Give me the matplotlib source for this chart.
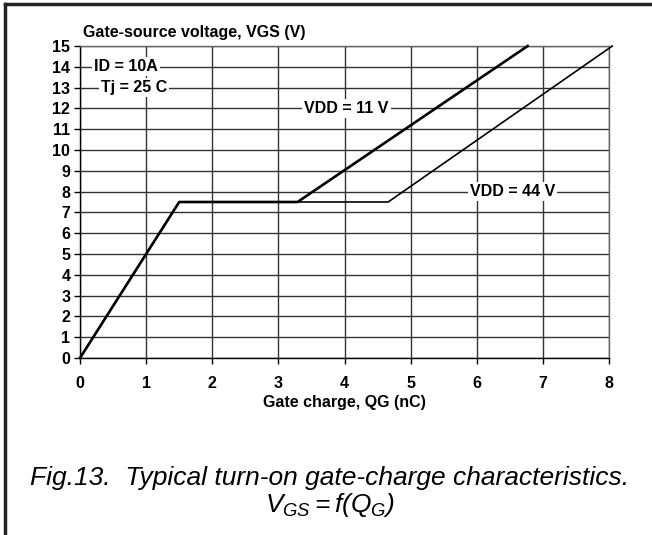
import matplotlib
matplotlib.use('Agg')
import matplotlib.pyplot as plt
from matplotlib.lines import Line2D

plt.rcParams['font.family'] = ['Liberation Sans', 'DejaVu Sans']
plt.rcParams['mathtext.fontset'] = 'custom'
plt.rcParams['mathtext.it'] = 'Liberation Sans:italic'
plt.rcParams['mathtext.rm'] = 'Liberation Sans:italic'

# gate charge curves
qg_11 = [0, 1.5, 3.29, 6.77]
vgs_11 = [0, 7.5, 7.5, 15]
qg_44 = [0, 1.5, 4.66, 8.05]
vgs_44 = [0, 7.5, 7.5, 15]

x_ticks = [0, 1, 2, 3, 4, 5, 6, 7, 8]
y_ticks = list(range(0, 16))

fs = 11.5

fig = plt.figure(figsize=(6.52, 5.35), dpi=100)
ax = fig.add_axes([80/652, 1 - 358/535, (609-80)/652, (358-46)/535])

ax.set_xlim(0, 8)
ax.set_ylim(0, 15)
ax.set_xticks(x_ticks)
ax.set_yticks(y_ticks)
ax.grid(True, color='#333333', linewidth=1.0)
ax.set_axisbelow(True)
for s in ax.spines.values():
    s.set_color('#666666')
    s.set_linewidth(1.0)
ax.spines['left'].set_color('black')
ax.spines['bottom'].set_color('black')
ax.tick_params(axis='x', length=4, width=1, pad=9, labelsize=fs)
ax.tick_params(axis='y', length=4, width=1, pad=3, labelsize=fs)
for lab in ax.get_xticklabels() + ax.get_yticklabels():
    lab.set_fontweight('bold')

ax.plot(qg_44, vgs_44, color='black', linewidth=1.2, clip_on=False, zorder=3)
ax.plot(qg_11, vgs_11, color='black', linewidth=1.9, clip_on=False, zorder=4)

box = dict(facecolor='white', edgecolor='none', pad=1.5)
ax.text(0.69, 14, 'ID = 10A', ha='center', va='center', fontsize=fs,
        fontweight='bold', bbox=box, zorder=5)
ax.text(0.82, 13, 'Tj = 25 C', ha='center', va='center', fontsize=fs,
        fontweight='bold', bbox=box, zorder=5)
ax.text(4.03, 12, 'VDD = 11 V', ha='center', va='center', fontsize=fs,
        fontweight='bold', bbox=box, zorder=5)
ax.text(6.54, 8, 'VDD = 44 V', ha='center', va='center', fontsize=fs,
        fontweight='bold', bbox=box, zorder=5)

fig.text(83/652, 1 - 33/535, 'Gate-source voltage, VGS (V)', ha='left',
         va='center', fontsize=fs, fontweight='bold')
fig.text(344/652, 1 - 403/535, 'Gate charge, QG (nC)', ha='center',
         va='center', fontsize=fs, fontweight='bold')

fig.text(330/652, 1 - 478/535,
         'Fig.13.  Typical turn-on gate-charge characteristics.',
         ha='center', va='center', fontsize=19, style='italic')
fig.text(330/652, 1 - 505/535, r'$V_{GS}= f(Q_G)$',
         ha='center', va='center', fontsize=19)

# frame lines on left and top
fig.add_artist(Line2D([5/652, 5/652], [0, 1 - 4/535], color='#222222',
                      linewidth=2.5, transform=fig.transFigure))
fig.add_artist(Line2D([5/652, 1], [1 - 4/535, 1 - 4/535], color='#222222',
                      linewidth=2.5, transform=fig.transFigure))

fig.savefig('out.png', dpi=100)
